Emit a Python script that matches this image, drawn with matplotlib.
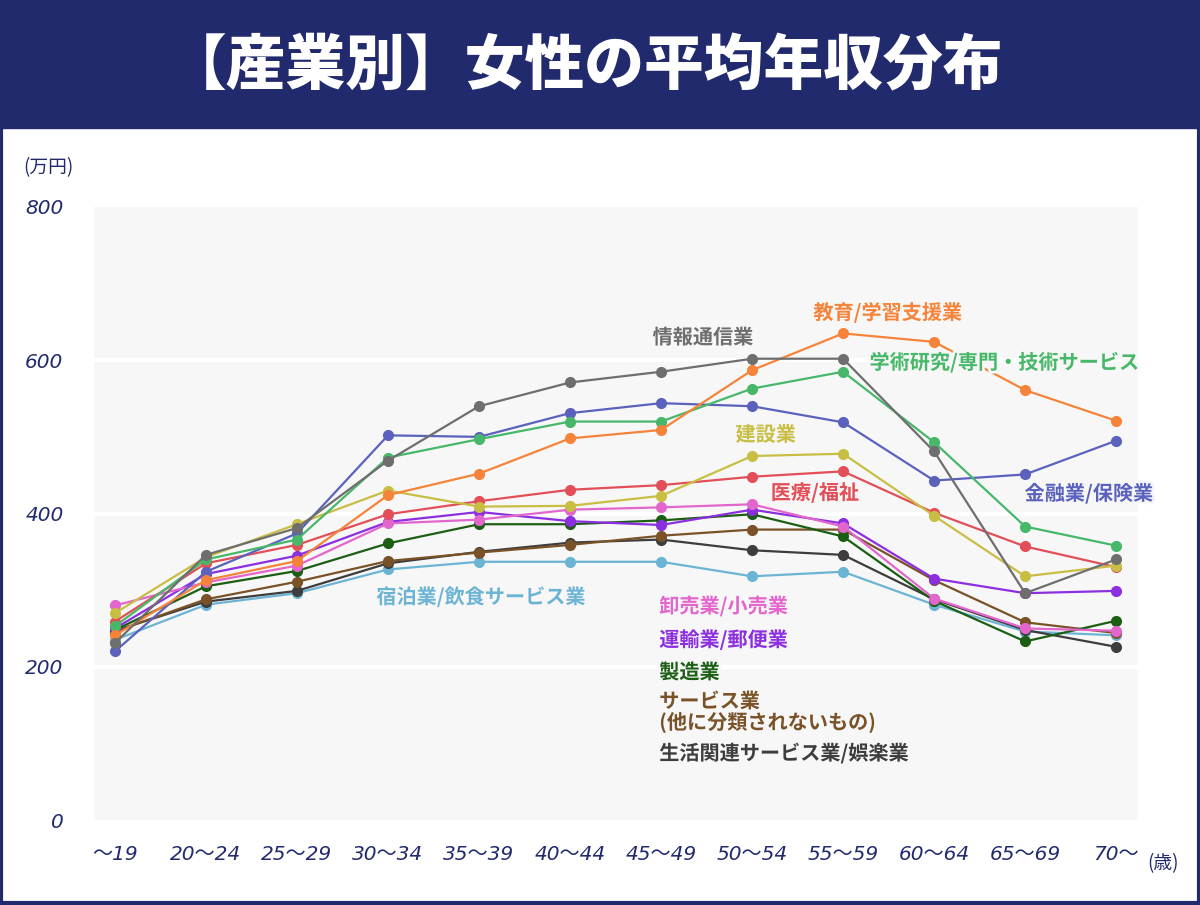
import matplotlib
matplotlib.use("Agg")
import matplotlib.pyplot as plt
import matplotlib.patches as mpatches
import matplotlib.patheffects as pe

plt.rcParams['font.family'] = ['Noto Sans CJK JP', 'DejaVu Sans']

age_labels = ["～19", "20～24", "25～29", "30～34", "35～39", "40～44",
              "45～49", "50～54", "55～59", "60～64", "65～69", "70～"]

info_comm = [231, 346, 381, 469, 540, 571, 585, 602, 602, 481, 296, 340]
education = [241, 313, 338, 424, 452, 498, 509, 587, 635, 624, 561, 521]
academic = [253, 340, 366, 473, 497, 520, 520, 563, 585, 493, 383, 358]
finance = [220, 324, 374, 502, 500, 531, 544, 540, 519, 443, 451, 495]
construction = [270, 343, 386, 430, 409, 410, 423, 475, 478, 397, 318, 332]
medical = [259, 335, 359, 399, 416, 431, 437, 448, 455, 401, 357, 330]
retail = [280, 310, 332, 387, 392, 405, 408, 412, 383, 289, 250, 247]
transport = [250, 321, 345, 389, 402, 390, 385, 405, 387, 315, 296, 299]
manufacturing = [248, 305, 325, 361, 386, 386, 391, 399, 370, 286, 233, 260]
services_other = [246, 288, 311, 338, 349, 359, 371, 379, 379, 313, 258, 244]
lifestyle = [247, 285, 299, 335, 350, 362, 366, 352, 346, 288, 248, 226]
hospitality = [235, 281, 296, 327, 337, 337, 337, 318, 324, 281, 246, 241]

series = [
    ("宿泊業/飲食サービス業", hospitality, "#6cb4d4"),
    ("生活関連サービス業/娯楽業", lifestyle, "#3d3d3d"),
    ("サービス業\n(他に分類されないもの)", services_other, "#7a5228"),
    ("製造業", manufacturing, "#1b5e14"),
    ("運輸業/郵便業", transport, "#8b2fe0"),
    ("卸売業/小売業", retail, "#e266cc"),
    ("医療/福祉", medical, "#e24f58"),
    ("建設業", construction, "#c9be44"),
    ("金融業/保険業", finance, "#5a62bd"),
    ("学術研究/専門・技術サービス", academic, "#47b86a"),
    ("教育/学習支援業", education, "#f5843a"),
    ("情報通信業", info_comm, "#6e6e6e"),
]

navy = "#222a6e"

fig = plt.figure(figsize=(12, 9.05), dpi=100)
fig.patch.set_facecolor("white")

# title bar and frame
fig.patches.append(mpatches.Rectangle((0, 1 - 128 / 905), 1, 128 / 905,
                                      transform=fig.transFigure, color=navy, zorder=0))
fig.patches.append(mpatches.Rectangle((0.0012, 0.0017), 0.9976, 0.997,
                                      transform=fig.transFigure, fill=False,
                                      edgecolor=navy, linewidth=3, zorder=0))
fig.text(0.5 - 15 / 1200, 1 - 66 / 905, "【産業別】女性の平均年収分布", color="white",
         fontsize=43, fontweight="heavy", ha="center", va="center")

ax = fig.add_axes([94 / 1200, 1 - 820 / 905, (1138 - 94) / 1200, (820 - 207) / 905])
ax.set_facecolor("#f7f7f7")
for s in ax.spines.values():
    s.set_visible(False)

x = list(range(len(age_labels)))
for name, vals, col in series:
    ax.plot(x, vals, color=col, linewidth=1.6, marker="o", markersize=7, zorder=3)

ax.set_xlim(-0.23, 11.24)
ax.set_ylim(0, 800)
ax.set_yticks([0, 200, 400, 600, 800])
ax.set_xticks(x)
ax.set_xticklabels(age_labels)
for yv in [200, 400, 600]:
    ax.axhline(yv, color="white", linewidth=3, zorder=1)
ax.tick_params(axis="both", length=0, labelcolor=navy, labelsize=14.5)
ax.tick_params(axis="y", pad=22)
ax.tick_params(axis="x", pad=18)
for lbl in ax.get_yticklabels() + ax.get_xticklabels():
    lbl.set_fontstyle("italic")
    lbl.set_family(["DejaVu Sans", "Noto Sans CJK JP"])

fig.text(48 / 1200, 1 - 168 / 905, "(万円)", color=navy, fontsize=13.5,
         ha="center", va="center", style="italic")
fig.text(1163 / 1200, 1 - 864 / 905, "(歳)", color=navy, fontsize=13.5,
         ha="center", va="center", style="italic")

halo = [pe.withStroke(linewidth=4, foreground="#f7f7f7")]
labels = [
    ("情報通信業", 6.46, 630, "#6e6e6e", "center"),
    ("教育/学習支援業", 8.49, 662, "#f5843a", "center"),
    ("学術研究/専門・技術サービス", 9.77, 597, "#47b86a", "center"),
    ("建設業", 7.15, 503, "#c9be44", "center"),
    ("医療/福祉", 7.69, 427, "#e24f58", "center"),
    ("金融業/保険業", 10.7, 426, "#5a62bd", "center"),
    ("宿泊業/飲食サービス業", 4.02, 291, "#6cb4d4", "center"),
    ("卸売業/小売業", 5.98, 279, "#e266cc", "left"),
    ("運輸業/郵便業", 5.98, 235, "#8b2fe0", "left"),
    ("製造業", 5.98, 193, "#1b5e14", "left"),
    ("サービス業\n(他に分類されないもの)", 5.98, 141, "#7a5228", "left"),
    ("生活関連サービス業/娯楽業", 5.98, 87, "#3d3d3d", "left"),
]
for txt, lx, ly, col, ha in labels:
    ax.text(lx, ly, txt, color=col, fontsize=14.5, fontweight="bold",
            ha=ha, va="center", zorder=5, path_effects=halo, linespacing=1.0)

fig.savefig("out.png", dpi=100)
